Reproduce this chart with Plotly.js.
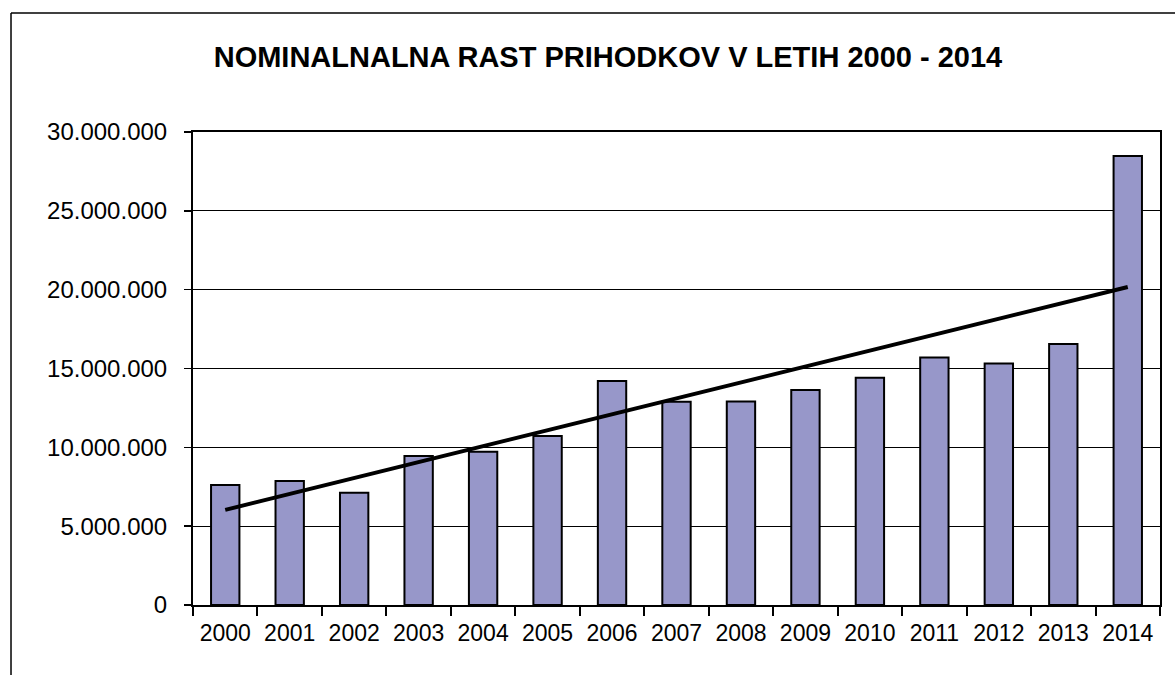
<!DOCTYPE html>
<html>
<head>
<meta charset="utf-8">
<script src="https://cdn.plot.ly/plotly-3.0.1.min.js"></script>
<style>html,body{margin:0;padding:0;background:#fff;}#chart{width:1175px;height:675px;}</style>
</head>
<body>
<div id="chart"></div>
<script>
var years = ['2000','2001','2002','2003','2004','2005','2006','2007','2008','2009','2010','2011','2012','2013','2014'];
var revenues = [7610000, 7860000, 7120000, 9450000, 9720000, 10720000, 14200000, 12890000, 12900000, 13630000, 14410000, 15700000, 15320000, 16550000, 28470000];
var yTicks = [0, 5000000, 10000000, 15000000, 20000000, 25000000, 30000000];

// linear trend (least squares) computed from the data
var n = revenues.length;
var mx = (n - 1) / 2, my = revenues.reduce(function(a,b){return a+b;},0) / n;
var sxy = 0, sxx = 0;
for (var i = 0; i < n; i++) { sxy += (i - mx) * (revenues[i] - my); sxx += (i - mx) * (i - mx); }
var slope = sxy / sxx, intercept = my - slope * mx;
var trendX = [years[0], years[n-1]];
var trendY = [intercept, intercept + slope * (n - 1)];

var data = [
  {type:'bar', x: years, y: revenues, marker:{color:'#9797C9', line:{color:'#000', width:2}}, hoverinfo:'x+y'},
  {type:'scatter', mode:'lines', x: trendX, y: trendY, line:{color:'#000', width:4}, hoverinfo:'skip'}
];

var layout = {
  width:1175, height:675,
  margin:{l:193, r:15, t:132, b:70},
  paper_bgcolor:'#fff', plot_bgcolor:'#fff',
  separators: ',.',
  showlegend:false,
  bargap:0.56,
  font:{family:'Liberation Sans, Arial, sans-serif', color:'#000'},
  title:{text:'<b>NOMINALNALNA RAST PRIHODKOV V LETIH 2000 - 2014</b>', xref:'container', x:0.5174, xanchor:'center', yref:'container', y:0.9156, yanchor:'middle', font:{size:29, color:'#000'}},
  xaxis:{type:'category', tickson:'boundaries', ticks:'outside', ticklen:9, tickwidth:2, tickcolor:'#000',
         ticklabelstandoff:6,
         showline:true, linecolor:'#000', linewidth:2, mirror:true, showgrid:false,
         tickfont:{size:23, color:'#000'}},
  yaxis:{range:[0, 30000000], tickvals:yTicks, tickformat:',d', ticks:'outside', ticklen:7, tickwidth:1.5, tickcolor:'#000',
         ticklabelstandoff:12,
         showline:true, linecolor:'#000', linewidth:2, mirror:true, showgrid:true, gridcolor:'#000', gridwidth:1.2,
         zeroline:false, tickfont:{size:24, color:'#000'}},
  shapes:[
    {type:'line', xref:'paper', yref:'paper', x0:-0.1882, x1:1.02, y0:1.2516, y1:1.2516, line:{color:'#000', width:1.5}},
    {type:'line', xref:'paper', yref:'paper', x0:-0.1882, x1:-0.1882, y0:1.2516, y1:-0.16, line:{color:'#000', width:1.5}}
  ]
};

Plotly.newPlot('chart', data, layout, {displayModeBar:false, staticPlot:true});
</script>
</body>
</html>
